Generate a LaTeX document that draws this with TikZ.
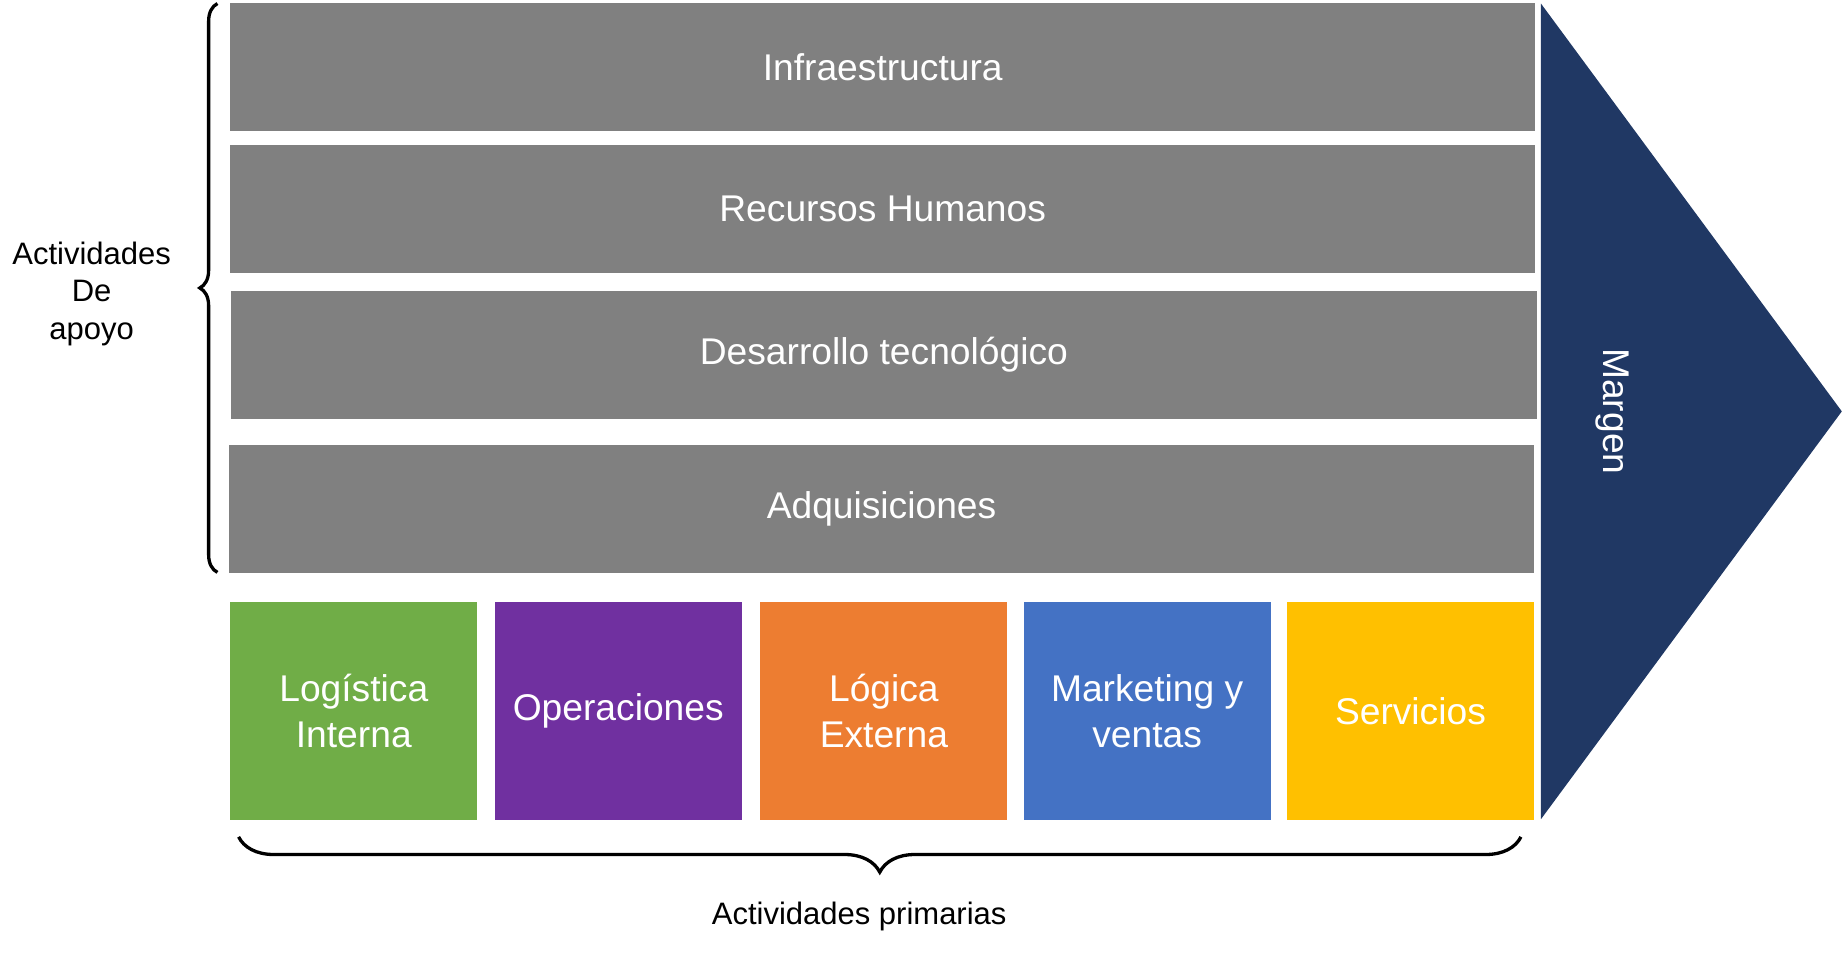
\documentclass[tikz,border=0pt]{standalone}
\usepackage{fontspec}
\setmainfont{Liberation Sans}
\usetikzlibrary{decorations.pathreplacing}
\definecolor{soporte}{HTML}{808080}
\definecolor{margenazul}{HTML}{203864}
\tikzset{
  apoyo/.style = {fill=soporte, text=white, minimum width=11.1cm,
    minimum height=1.09cm, inner sep=0pt, font=\fontsize{9}{10}\selectfont},
  primaria/.style = {text=white, minimum width=2.1cm, minimum height=1.85cm,
    inner sep=0pt, align=center, font=\fontsize{9}{11}\selectfont},
  llave/.style = {decorate, decoration={brace, amplitude=#1}, thick},
  etiqueta/.style = {align=center, font=\fontsize{7.5}{9}\selectfont}
}
\begin{document}
\begin{tikzpicture}[x=0.01cm, y=-0.01cm]
  \useasboundingbox (0,0) rectangle (1568,815);
  % actividades de apoyo
  \node [apoyo] (infra) at (751,57) {Infraestructura};
  \node [apoyo] (rrhh)  at (751,178) {Recursos Humanos};
  \node [apoyo] (tecno) at (752,302) {Desarrollo tecnológico};
  \node [apoyo] (adq)   at (750,433) {Adquisiciones};
  % actividades primarias
  \node [primaria, fill={rgb,255:red,112;green,173;blue,71}] (logint) at (301,605) {Logística\\Interna};
  \node [primaria, fill={rgb,255:red,112;green,48;blue,160}] (oper) at (526,605) {Operaciones};
  \node [primaria, fill={rgb,255:red,237;green,125;blue,49}] (logext) at (752,605) {Lógica\\Externa};
  \node [primaria, fill={rgb,255:red,68;green,114;blue,196}] (mkt) at (976,605) {Marketing y\\ventas};
  \node [primaria, fill={rgb,255:red,255;green,192;blue,0}] (serv) at (1200,605) {Servicios};
  % margen
  \fill [margenazul] (1311,3) coordinate (m1) -- (1567,350) coordinate (mpunta)
    -- (1311,697) coordinate (m2) -- cycle;
  \node [rotate=-90, text=white, font=\fontsize{9}{10}\selectfont] (margen) at (1372,350) {Margen};
  % llaves
  \coordinate (lla) at (185,487);
  \coordinate (llb) at (185,3);
  \draw [llave=0.15cm] (lla) -- (llb);
  \node [etiqueta] (apoyotxt) at (78,250) {Actividades\\De\\apoyo};
  \coordinate (llc) at (1294,712);
  \coordinate (lld) at (203,712);
  \draw [llave=0.3cm] (llc) -- (lld);
  \node [etiqueta] (primtxt) at (731,780) {Actividades primarias};
\end{tikzpicture}
\end{document}
